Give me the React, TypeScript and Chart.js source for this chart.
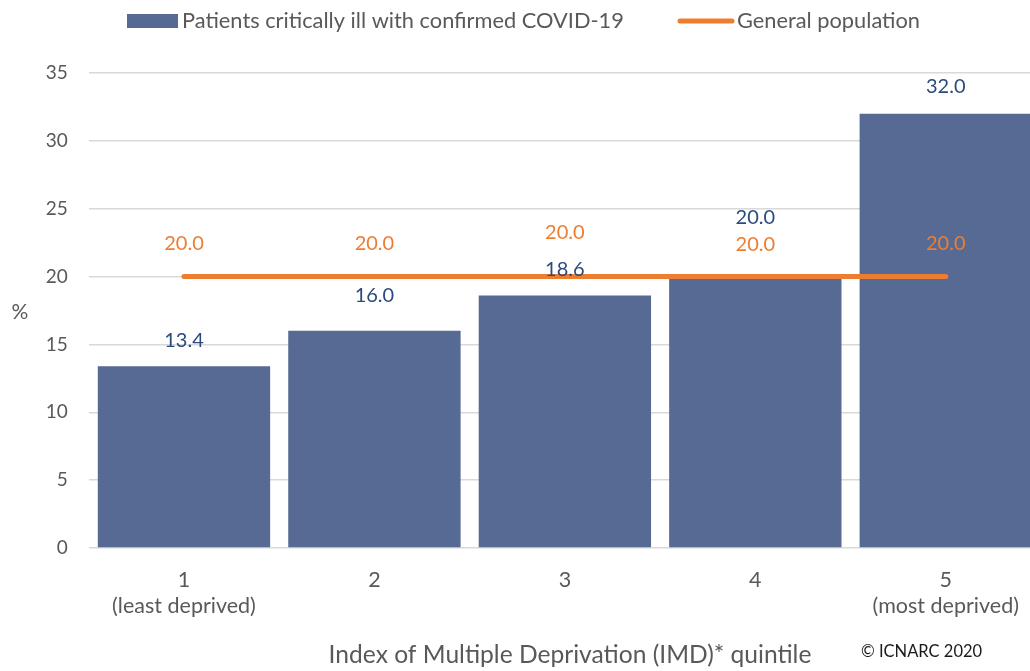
import React, { useEffect, useRef } from "react";
import { Chart, registerables } from "chart.js";

Chart.register(...registerables);

const categories: string[][] = [["1", "(least deprived)"], ["2"], ["3"], ["4"], ["5", "(most deprived)"]];
const patientsPct: number[] = [13.4, 16.0, 18.6, 20.0, 32.0];
const generalPct: number[] = [20.0, 20.0, 20.0, 20.0, 20.0];
const yTicks: number[] = [0, 5, 10, 15, 20, 25, 30, 35];
const seriesNames: string[] = ["Patients critically ill with confirmed COVID-19", "General population"];
const xTitle = "Index of Multiple Deprivation (IMD)* quintile";
const yTitle = "%";
const credit = "© ICNARC 2020";

const FONT = "Lato, 'Open Sans', sans-serif";
const BAR = "#566A94";
const ORANGE = "#ED7D31";
const GREY = "#595959";
const LABEL_BLUE = "#2D4A7E";

const W = 1060;
const H = 671;

const decor = {
  id: "decor",
  afterDatasetsDraw(chart: any) {
    const ctx = chart.ctx;
    const meta0 = chart.getDatasetMeta(0);
    const meta1 = chart.getDatasetMeta(1);
    const barOff = [-26, -35, -26, -59, -27];
    const lineOff = [-33, -33, -44, -32, -33];
    ctx.save();
    ctx.font = `20px ${FONT}`;
    ctx.textAlign = "center";
    ctx.textBaseline = "middle";
    meta0.data.forEach((el: any, i: number) => {
      ctx.fillStyle = LABEL_BLUE;
      ctx.fillText(patientsPct[i].toFixed(1), el.x, el.y + barOff[i]);
    });
    meta1.data.forEach((el: any, i: number) => {
      ctx.fillStyle = ORANGE;
      ctx.fillText(generalPct[i].toFixed(1), el.x, el.y + lineOff[i]);
    });

    // legend
    ctx.font = `21.8px ${FONT}`;
    ctx.fillStyle = BAR;
    ctx.fillRect(127, 14, 51, 14);
    ctx.fillStyle = GREY;
    ctx.textAlign = "left";
    ctx.fillText(seriesNames[0], 182, 21);
    ctx.strokeStyle = ORANGE;
    ctx.lineWidth = 5;
    ctx.lineCap = "round";
    ctx.beginPath();
    ctx.moveTo(680, 21);
    ctx.lineTo(732, 21);
    ctx.stroke();
    ctx.fillText(seriesNames[1], 737, 21);

    // axis titles
    ctx.font = `21px ${FONT}`;
    ctx.textAlign = "center";
    ctx.fillText(yTitle, 20, 312);
    ctx.font = `24.6px ${FONT}`;
    ctx.fillText(xTitle, 570, 655);
    ctx.font = `16.5px ${FONT}`;
    ctx.textAlign = "left";
    ctx.fillStyle = "#1a1a1a";
    ctx.fillText(credit, 861, 652);
    ctx.restore();
  },
};

export default function App() {
  const ref = useRef<HTMLCanvasElement>(null);
  useEffect(() => {
    if (!ref.current) return;
    const chart = new Chart(ref.current, {
      data: {
        labels: categories,
        datasets: [
          {
            type: "bar",
            label: seriesNames[0],
            data: patientsPct,
            backgroundColor: BAR,
            barPercentage: 0.905,
            categoryPercentage: 1,
            order: 2,
          },
          {
            type: "line",
            label: seriesNames[1],
            data: generalPct,
            borderColor: ORANGE,
            borderWidth: 5,
            borderCapStyle: "round",
            pointRadius: 0,
            fill: false,
            order: 1,
          },
        ],
      } as any,
      options: {
        responsive: false,
        animation: false,
        devicePixelRatio: 1,
        layout: { padding: { left: 0, top: 73, right: W - 1041, bottom: 0 } },
        plugins: { legend: { display: false }, tooltip: { enabled: false }, title: { display: false } },
        scales: {
          x: {
            grid: { display: false, drawTicks: false },
            border: { display: false },
            ticks: {
              color: GREY,
              font: { family: FONT, size: 21.5, lineHeight: 1.2 },
              padding: 19,
              maxRotation: 0,
              autoSkip: false,
            },
            afterFit(scale: any) {
              scale.height = H - 73 - 475;
            },
          },
          y: {
            min: 0,
            max: 35,
            afterBuildTicks(scale: any) {
              scale.ticks = yTicks.map((v) => ({ value: v }));
            },
            grid: { color: "#D9D9D9", lineWidth: 1.5, drawTicks: false },
            border: { display: false },
            ticks: {
              color: GREY,
              font: { family: FONT, size: 19 },
              padding: 21,
            },
            afterFit(scale: any) {
              scale.width = 88.75;
            },
          },
        },
      } as any,
      plugins: [decor],
    });
    return () => chart.destroy();
  }, []);
  return (
    <div style={{ position: "absolute", left: 0, top: 0, width: 1030, height: 671, overflow: "hidden", background: "#fff" }}>
      <canvas ref={ref} width={W} height={H} style={{ width: W, height: H, display: "block" }} />
    </div>
  );
}
